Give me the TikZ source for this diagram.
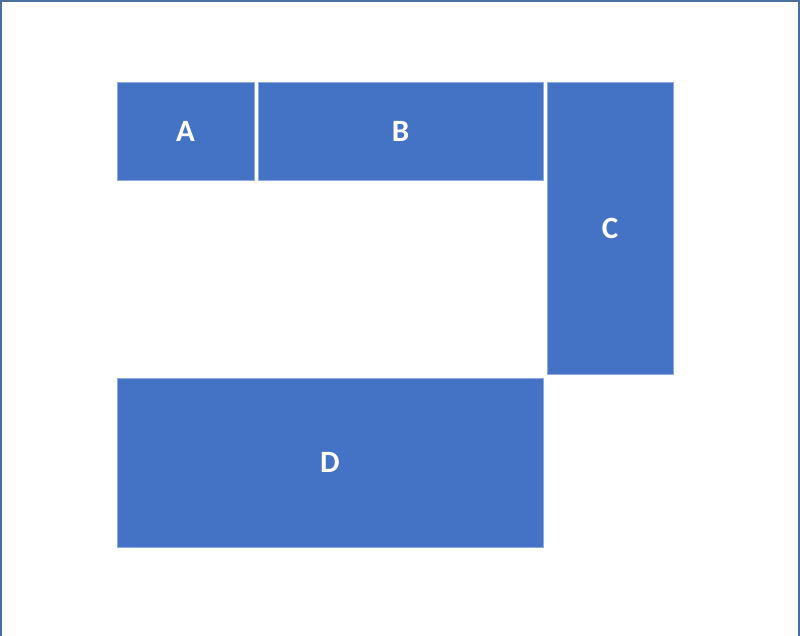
\documentclass[tikz,border=0pt]{standalone}
\usepackage{fontspec}
\setmainfont{Carlito}
\definecolor{boxfill}{HTML}{4472C4}
\definecolor{boxline}{HTML}{8FAADC}
\definecolor{frameline}{HTML}{4A70A0}
\begin{document}
\begin{tikzpicture}[x=1pt,y=-1pt,
  blk/.style={draw=boxline,line width=0.8pt,fill=boxfill,text=white,
    font=\fontsize{31}{31}\selectfont\bfseries,inner sep=0pt}]
\useasboundingbox (0,0) rectangle (800,636);
\fill[white] (0,0) rectangle (800,636);
\draw[frameline,line width=1.6pt] (0.8,636) -- (0.8,0.8) -- (799.2,0.8) -- (799.2,636);
\node[blk,minimum width=137pt,minimum height=98pt] (A) at (185.5,131) {A};
\node[blk,minimum width=285pt,minimum height=98pt] (B) at (400.5,131) {B};
\node[blk,minimum width=126pt,minimum height=292pt] (C) at (610,228) {C};
\node[blk,minimum width=426pt,minimum height=169pt] (D) at (330,462.5) {D};
\end{tikzpicture}
\end{document}
